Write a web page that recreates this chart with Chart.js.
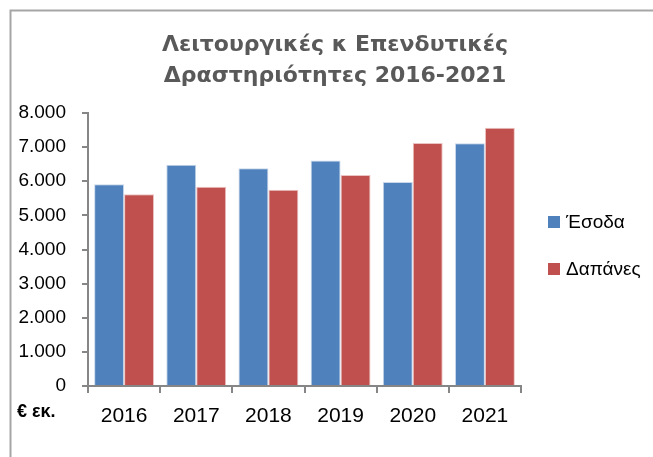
<!DOCTYPE html>
<html>
<head>
<meta charset="utf-8">
<script src="https://cdn.jsdelivr.net/npm/chart.js@4/dist/chart.umd.min.js"></script>
<style>
html,body{margin:0;padding:0;background:#fff;}
#wrap{width:653px;height:457px;position:relative;}
</style>
</head>
<body>
<div id="wrap"><canvas id="c" width="653" height="457"></canvas></div>
<script>
const categories = ['2016','2017','2018','2019','2020','2021'];
const incomeValues = [5915, 6480, 6380, 6610, 5980, 7110];
const expenseValues = [5620, 5840, 5750, 6180, 7120, 7570];
const seriesNames = ['Έσοδα', 'Δαπάνες'];
const titleLines = ['Λειτουργικές κ Επενδυτικές', 'Δραστηριότητες 2016-2021'];
const unitLabel = '€ εκ.';
const yTickValues = [0,1000,2000,3000,4000,5000,6000,7000,8000];

const colors = ['#4F81BD', '#C0504D'];
const FONT = '"Liberation Sans", Arial, sans-serif';
const TITLE_FONT = '"DejaVu Sans", "Liberation Sans", sans-serif';

const decor = {
  id: 'decor',
  afterDraw(chart) {
    const ctx = chart.ctx;
    ctx.save();
    // outer frame (top and left visible)
    ctx.strokeStyle = '#A6A6A6';
    ctx.lineWidth = 2;
    ctx.beginPath();
    ctx.moveTo(10.5, 457);
    ctx.lineTo(10.5, 10.5);
    ctx.lineTo(653, 10.5);
    ctx.stroke();
    // title
    ctx.fillStyle = '#595959';
    ctx.font = 'bold 22px ' + TITLE_FONT;
    ctx.textAlign = 'center';
    ctx.textBaseline = 'middle';
    ctx.fillText(titleLines[0], 335, 45);
    ctx.fillText(titleLines[1], 335, 76);
    // unit label
    ctx.fillStyle = '#000';
    ctx.font = 'bold 18px ' + FONT;
    ctx.textAlign = 'left';
    ctx.fillText(unitLabel, 17, 412);
    // legend
    ctx.font = '19px ' + FONT;
    const ys = [222, 269];
    chart.data.datasets.forEach((ds, i) => {
      ctx.fillStyle = ds.backgroundColor;
      ctx.fillRect(548, ys[i] - 6, 12, 12);
      ctx.fillStyle = '#000';
      ctx.fillText(ds.label, 566, ys[i] + 1);
    });
    ctx.restore();
  }
};

new Chart(document.getElementById('c'), {
  type: 'bar',
  data: {
    labels: categories,
    datasets: [
      { label: seriesNames[0], data: incomeValues, backgroundColor: colors[0], borderColor: '#C9D7EA', borderWidth: 1 },
      { label: seriesNames[1], data: expenseValues, backgroundColor: colors[1], borderColor: '#EBC3C2', borderWidth: 1 }
    ]
  },
  options: {
    responsive: false,
    animation: false,
    devicePixelRatio: 1,
    layout: { padding: { top: 113, right: 132, left: 0, bottom: 0 } },
    plugins: { legend: { display: false }, title: { display: false }, tooltip: { enabled: false } },
    datasets: { bar: { barPercentage: 1.0, categoryPercentage: 0.83 } },
    scales: {
      x: {
        afterFit(s) { s.height = 71; },
        grid: { display: true, drawOnChartArea: false, drawTicks: true, tickLength: 7, color: '#868686', lineWidth: 2, offset: true },
        border: { display: true, color: '#868686', width: 2 },
        ticks: { color: '#000', font: { family: FONT, size: 21 }, padding: 11 }
      },
      y: {
        min: 0, max: 8000,
        afterFit(s) { s.width = 88; },
        afterBuildTicks(s) { s.ticks = yTickValues.map(v => ({ value: v })); },
        grid: { display: true, drawOnChartArea: false, drawTicks: true, tickLength: 6, color: '#868686', lineWidth: 2 },
        border: { display: true, color: '#868686', width: 2 },
        ticks: {
          color: '#000', font: { family: FONT, size: 19 }, padding: 16,
          callback: v => v === 0 ? '0' : String(v).replace(/\B(?=(\d{3})+(?!\d))/g, '.')
        }
      }
    }
  },
  plugins: [decor]
});
</script>
</body>
</html>
